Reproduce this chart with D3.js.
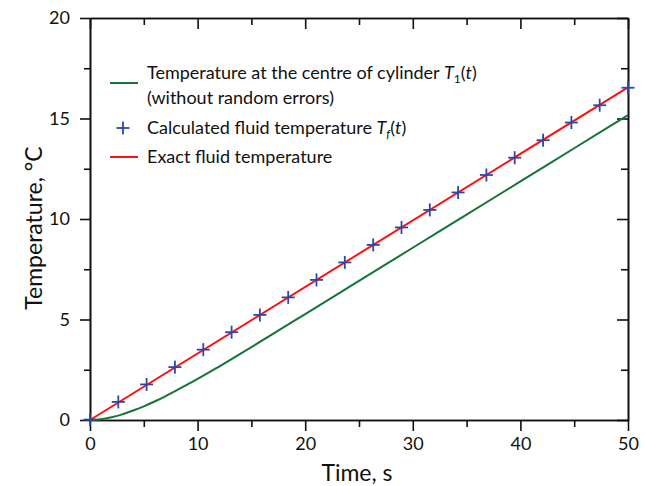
<!DOCTYPE html>
<html>
<head>
<meta charset="utf-8">
<script src="https://cdn.jsdelivr.net/npm/d3@7"></script>
<style>
    body { margin: 0; background: #fff; }
    text { font-family: Lato, "Open Sans", sans-serif; fill: #111; }
</style>
</head>
<body>
<div id="visualization"></div>
<script>
// time axis (s) and temperature axis (°C)
var xMajorTicks = [0, 10, 20, 30, 40, 50],
    xMinorTicks = [5, 15, 25, 35, 45],
    yMajorTicks = [0, 5, 10, 15, 20],
    yMinorTicks = [2.5, 7.5, 12.5, 17.5];

// temperature at the centre of cylinder T1(t), without random errors
var centreTime = [0, 1, 2, 3, 4, 5, 6, 7, 8, 9, 10, 12, 14, 17, 20, 25, 30, 35, 40, 45, 50],
    centreTemp = [0, 0.04, 0.14, 0.28, 0.47, 0.68, 0.92, 1.18, 1.46, 1.75, 2.04, 2.66, 3.3, 4.28, 5.27, 6.92, 8.57, 10.22, 11.87, 13.52, 15.17];

// calculated fluid temperature Tf(t)
var calcTime = [0, 2.63, 5.26, 7.89, 10.53, 13.16, 15.79, 18.42, 21.05, 23.68, 26.32, 28.95, 31.58, 34.21, 36.84, 39.47, 42.11, 44.74, 47.37, 50],
    calcTemp = [0.02, 0.9, 1.77, 2.63, 3.5, 4.37, 5.23, 6.1, 6.97, 7.84, 8.71, 9.58, 10.45, 11.32, 12.19, 13.05, 13.92, 14.8, 15.66, 16.53];

// exact fluid temperature
var exactTime = [0, 50],
    exactTemp = [0, 16.55];

var margin = { top: 18, right: 18, bottom: 66, left: 90 },
    width = 646 - margin.left - margin.right,
    height = 486 - margin.top - margin.bottom;

var svg = d3.select("#visualization").append("svg")
    .attr("width", 646)
    .attr("height", 486);

var canvas = svg.append("g")
    .attr("transform", "translate(" + margin.left + "," + margin.top + ")");

var xScale = d3.scaleLinear().domain([0, 50]).range([0, width]);
var yScale = d3.scaleLinear().domain([0, 20]).range([height, 0]);

function styleAxis(g) {
    g.selectAll("path, line").attr("stroke", "#111").attr("stroke-width", 1.6);
    g.selectAll("text").style("font-size", "18px").attr("fill", "#111");
}

// minor ticks first
canvas.append("g").attr("transform", "translate(0," + height + ")")
    .call(d3.axisBottom(xScale).tickValues(xMinorTicks).tickSize(7).tickSizeOuter(0).tickFormat(""))
    .call(styleAxis);
canvas.append("g")
    .call(d3.axisLeft(yScale).tickValues(yMinorTicks).tickSize(6).tickSizeOuter(0).tickFormat(""))
    .call(styleAxis);
canvas.append("g")
    .call(d3.axisTop(xScale).tickValues(xMinorTicks).tickSize(-7).tickSizeOuter(0).tickFormat(""))
    .call(styleAxis);
canvas.append("g").attr("transform", "translate(" + width + ",0)")
    .call(d3.axisRight(yScale).tickValues(yMinorTicks).tickSize(-7).tickSizeOuter(0).tickFormat(""))
    .call(styleAxis);

// major ticks with labels
canvas.append("g").attr("transform", "translate(0," + height + ")")
    .call(d3.axisBottom(xScale).tickValues(xMajorTicks).tickSize(11).tickSizeOuter(0).tickPadding(6).tickFormat(d3.format("d")))
    .call(styleAxis);
canvas.append("g")
    .call(d3.axisLeft(yScale).tickValues(yMajorTicks).tickSize(10).tickSizeOuter(0).tickPadding(10).tickFormat(d3.format("d")))
    .call(styleAxis);
canvas.append("g")
    .call(d3.axisTop(xScale).tickValues(xMajorTicks).tickSize(-11).tickSizeOuter(0).tickFormat(""))
    .call(styleAxis);
canvas.append("g").attr("transform", "translate(" + width + ",0)")
    .call(d3.axisRight(yScale).tickValues(yMajorTicks).tickSize(-11).tickSizeOuter(0).tickFormat(""))
    .call(styleAxis);

// axis titles
svg.append("text")
    .attr("x", margin.left + width / 2 - 2)
    .attr("y", 481)
    .attr("text-anchor", "middle")
    .style("font-size", "23px")
    .text("Time, s");

svg.append("text")
    .attr("transform", "translate(42," + (margin.top + height / 2 + 9) + ") rotate(-90)")
    .attr("text-anchor", "middle")
    .style("font-size", "23px")
    .text("Temperature, °C");

var line = d3.line()
    .x(function (d) { return xScale(d[0]); })
    .y(function (d) { return yScale(d[1]); })
    .curve(d3.curveMonotoneX);

// green centre curve
canvas.append("path")
    .datum(d3.zip(centreTime, centreTemp))
    .attr("fill", "none")
    .attr("stroke", "#16743a")
    .attr("stroke-width", 2)
    .attr("d", line);

// red exact line
canvas.append("path")
    .datum(d3.zip(exactTime, exactTemp))
    .attr("fill", "none")
    .attr("stroke", "#ff1010")
    .attr("stroke-width", 2)
    .attr("d", line);

// blue crosses
function plus(g, s) {
    g.append("line").attr("x1", -s).attr("x2", s).attr("y1", 0).attr("y2", 0);
    g.append("line").attr("x1", 0).attr("x2", 0).attr("y1", -s).attr("y2", s);
}
canvas.selectAll(".cross")
    .data(d3.zip(calcTime, calcTemp))
    .enter().append("g")
    .attr("class", "cross")
    .attr("transform", function (d) { return "translate(" + xScale(d[0]) + "," + yScale(d[1]) + ")"; })
    .attr("stroke", "#2a48a8")
    .attr("stroke-width", 1.8)
    .each(function () { plus(d3.select(this), 6.5); });

// legend
var legend = svg.append("g");
var lx = 110, tx = 147;

legend.append("line").attr("x1", lx).attr("x2", lx + 28).attr("y1", 83).attr("y2", 83)
    .attr("stroke", "#16743a").attr("stroke-width", 2);
var t1 = legend.append("text").attr("x", tx).attr("y", 79).style("font-size", "18px");
t1.append("tspan").text("Temperature at the centre of cylinder ");
t1.append("tspan").style("font-style", "italic").text("T");
t1.append("tspan").attr("dy", 4).style("font-size", "12px").text("1");
t1.append("tspan").attr("dy", -4).text("(");
t1.append("tspan").style("font-style", "italic").text("t");
t1.append("tspan").text(")");
legend.append("text").attr("x", tx).attr("y", 104).style("font-size", "18px")
    .text("(without random errors)");

legend.append("g").attr("transform", "translate(123,128)")
    .attr("stroke", "#2a48a8").attr("stroke-width", 1.8)
    .call(plus, 6.5);
var t2 = legend.append("text").attr("x", tx).attr("y", 134).style("font-size", "18px");
t2.append("tspan").text("Calculated fluid temperature ");
t2.append("tspan").style("font-style", "italic").text("T");
t2.append("tspan").attr("dy", 4).style("font-size", "12px").style("font-style", "italic").text("f");
t2.append("tspan").attr("dy", -4).text("(");
t2.append("tspan").style("font-style", "italic").text("t");
t2.append("tspan").text(")");

legend.append("line").attr("x1", lx).attr("x2", lx + 28).attr("y1", 157).attr("y2", 157)
    .attr("stroke", "#ff1010").attr("stroke-width", 2);
legend.append("text").attr("x", tx).attr("y", 163).style("font-size", "18px")
    .text("Exact fluid temperature");
</script>
</body>
</html>
